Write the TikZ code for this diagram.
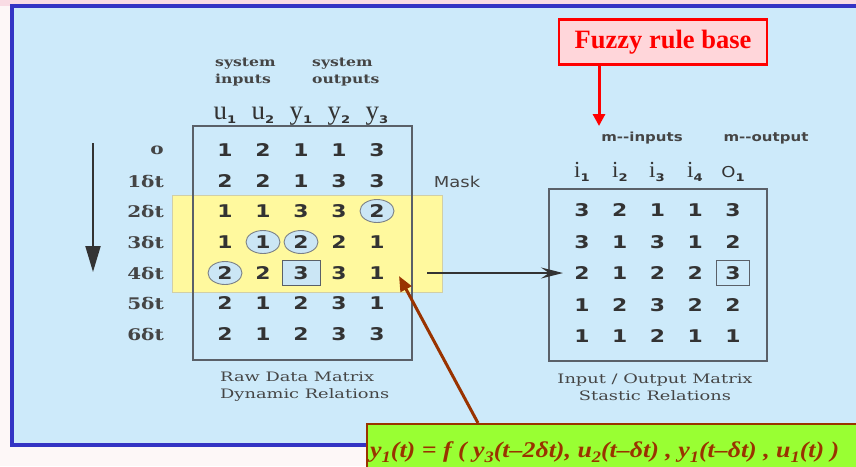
\documentclass[tikz,border=0pt]{standalone}
\usepackage{fontspec}
\setmainfont{Liberation Serif}
\newfontfamily\digf[FakeStretch=1.25]{DejaVu Sans}
\newfontfamily\labf[FakeStretch=1.25]{DejaVu Serif}
\newfontfamily\capf[FakeStretch=1.37]{DejaVu Serif}
\newfontfamily\swide[FakeStretch=1.2]{DejaVu Sans}
\newfontfamily\formf[FakeStretch=1.15]{Liberation Serif}
\usetikzlibrary{arrows.meta,shapes.geometric}

\definecolor{framecol}{HTML}{3434C4}
\definecolor{bgblue}{HTML}{CDEAFA}
\definecolor{toppink}{HTML}{F9DCE4}
\definecolor{botpink}{HTML}{FDF7F7}
\definecolor{maskyel}{HTML}{FFF99E}
\definecolor{cellblue}{HTML}{CBE6F5}
\definecolor{dgcol}{HTML}{333333}
\definecolor{linecol}{HTML}{5A6068}
\definecolor{labcol}{HTML}{454545}
\definecolor{fuzzfill}{HTML}{FFD6DA}
\definecolor{brownc}{HTML}{993300}
\definecolor{greenf}{HTML}{99FF33}

\newcommand{\hsub}[1]{\raisebox{-4pt}{\digf\bfseries\fontsize{10.5}{10.5}\selectfont #1}}
\newcommand{\fsub}[1]{\raisebox{-5pt}{\fontsize{16}{16}\selectfont #1}}

\pgfdeclarelayer{back}
\pgfdeclarelayer{mid}
\pgfsetlayers{back,mid,main}

\begin{document}
\begin{tikzpicture}[x=1pt,y=-1pt,
  dg/.style={font=\digf\bfseries\fontsize{17.5}{17.5}\selectfont, text=dgcol, inner sep=0pt},
  rowlab/.style={font=\labf\bfseries\fontsize{16}{16}\selectfont, text=labcol, anchor=east, inner sep=0pt},
  varlab/.style={font=\fontsize{27}{27}\selectfont, text=dgcol, anchor=base, inner sep=0pt},
  smalllab/.style={font=\labf\bfseries\fontsize{12.5}{17}\selectfont, text=labcol, inner sep=0pt},
  caplab/.style={font=\capf\fontsize{13}{17}\selectfont, text=labcol, inner sep=0pt},
  sanslab/.style={font=\swide\bfseries\fontsize{12.5}{12.5}\selectfont, text=labcol, inner sep=0pt},
  matbox/.style={draw=linecol, line width=1.2pt},
  circcell/.style={ellipse, draw=linecol!80, fill=cellblue, line width=0.9pt, minimum width=34pt, minimum height=23pt, inner sep=0pt},
  sqcell/.style={rectangle, draw=linecol, fill=cellblue, line width=1pt, minimum width=38pt, minimum height=25pt, inner sep=0pt},
  sqcellr/.style={rectangle, draw=linecol, line width=1pt, minimum width=33pt, minimum height=25pt, inner sep=0pt},
]
\useasboundingbox (0,0) rectangle (856,466);
\clip (0,0) rectangle (856,466);

\begin{pgfonlayer}{back}
  \fill[botpink] (0,0) rectangle (856,466);
  \fill[toppink] (0,0) rectangle (856,6);
  \draw[framecol, line width=4pt, fill=bgblue] (12,6) rectangle (880,445);
  \draw[maskyel!70!black!60, line width=0.6pt, fill=maskyel] (172,195) rectangle (442,292);
\end{pgfonlayer}

% left matrix box
\draw[matbox] (193,126) rectangle (412,360);
% right matrix box
\draw[matbox] (549,189) rectangle (767,361);

% left matrix digits
\foreach \r/\yy/\vals in {0/150/{1,2,1,1,3},1/181/{2,2,1,3,3},2/211/{1,1,3,3,2},3/242/{1,1,2,2,1},4/273/{2,2,3,3,1},5/303/{2,1,2,3,1},6/334/{2,1,2,3,3}}{
  \foreach \v [count=\c] in \vals {
    \node[dg] (L-\r-\c) at ({225+38*(\c-1)},\yy) {\v};
  }
}
% right matrix digits
\foreach \r/\yy/\vals in {1/210/{3,2,1,1,3},2/242/{3,1,3,1,2},3/273/{2,1,2,2,3},4/305/{1,2,3,2,2},5/336/{1,1,2,1,1}}{
  \foreach \v [count=\c] in \vals {
    \node[dg] (R-\r-\c) at ({582+37.75*(\c-1)},\yy) {\v};
  }
}

% highlighted cells
\begin{pgfonlayer}{mid}
  \node[circcell] (c1) at (L-2-5) {};
  \node[circcell] (c2) at (L-3-2) {};
  \node[circcell] (c3) at (L-3-3) {};
  \node[circcell] (c4) at (L-4-1) {};
  \node[sqcell] (s1) at (L-4-3) {};
  \node[sqcellr] (s2) at (R-3-5) {};
\end{pgfonlayer}

% row labels
\foreach \r/\yy/\t in {0/150/o,1/181/1δt,2/211/2δt,3/242/3δt,4/273/4δt,5/303/5δt,6/334/6δt}{
  \node[rowlab] (T-\r) at (164,\yy) {\t};
}

% header labels
\node[varlab] (h1) at (225,119) {u\hsub{1}};
\node[varlab] (h2) at (263,119) {u\hsub{2}};
\node[varlab] (h3) at (301,119) {y\hsub{1}};
\node[varlab] (h4) at (339,119) {y\hsub{2}};
\node[varlab] (h5) at (377,119) {y\hsub{3}};

\node[varlab, font=\fontsize{23}{23}\selectfont] (g1) at (582,177) {i\hsub{1}};
\node[varlab, font=\fontsize{23}{23}\selectfont] (g2) at (620,177) {i\hsub{2}};
\node[varlab, font=\fontsize{23}{23}\selectfont] (g3) at (657,177) {i\hsub{3}};
\node[varlab, font=\fontsize{23}{23}\selectfont] (g4) at (695,177) {i\hsub{4}};
\node[varlab, font=\swide\fontsize{15}{15}\selectfont] (g5) at (733,177) {O\hsub{1}};

\node[smalllab, anchor=west, align=left] (sysin) at (215,72) {system\\inputs};
\node[smalllab, anchor=west, align=left] (sysout) at (312,72) {system\\outputs};

\node[sanslab] (minp) at (642,138) {m--inputs};
\node[sanslab] (mout) at (766,138) {m--output};
\node[sanslab, font=\swide\fontsize{15}{15}\selectfont] (mask) at (457,182) {Mask};

\node[caplab, anchor=west, align=left] (rawlab) at (220,387) {Raw Data Matrix\\Dynamic Relations};
\node[caplab, align=center] (iolab) at (655,387) {Input / Output Matrix\\Stastic Relations};

% time arrow
\coordinate (tstart) at (93,143);
\coordinate (tend) at (93,272);
\draw[dgcol, line width=2pt, -{Triangle[length=26pt, width=15pt]}] (tstart) -- (tend);

% mask -> rule arrow
\coordinate (mstart) at (427,273);
\coordinate (mend) at (563,273);
\draw[dgcol, line width=1.5pt, -{Stealth[length=22pt, width=11pt, inset=8pt]}] (mstart) -- (mend);

% fuzzy rule base
\node[draw=red, fill=fuzzfill, line width=2.5pt, minimum width=208pt, minimum height=45pt, inner sep=0pt,
      font=\bfseries\fontsize{26.5}{26.5}\selectfont, text=red] (fz) at (663,42) {Fuzzy rule base};
\coordinate (rtip) at (599,126);
\draw[red, line width=3pt, -{Triangle[length=12pt, width=12pt]}] (fz.south -| rtip) -- (rtip);

% formula box
\node[draw=brownc, fill=greenf, line width=2pt, anchor=north west, minimum width=560pt, minimum height=70pt, inner sep=0pt] (fbox) at (366,423) {};
\node[anchor=base west, inner sep=0pt, text=brownc, font=\formf\bfseries\itshape\fontsize{22.5}{22.5}\selectfont] (ftext) at (370,457)
  {y\fsub{1}(t) = f ( y\fsub{3}(t–2δt), u\fsub{2}(t–δt) , y\fsub{1}(t–δt) , u\fsub{1}(t) )};
\coordinate (bstart) at (478,423);
\coordinate (btip) at (399,276);
\draw[brownc, line width=3pt, -{Triangle[length=15pt, width=12pt]}] (bstart) -- (btip);
\end{tikzpicture}
\end{document}
